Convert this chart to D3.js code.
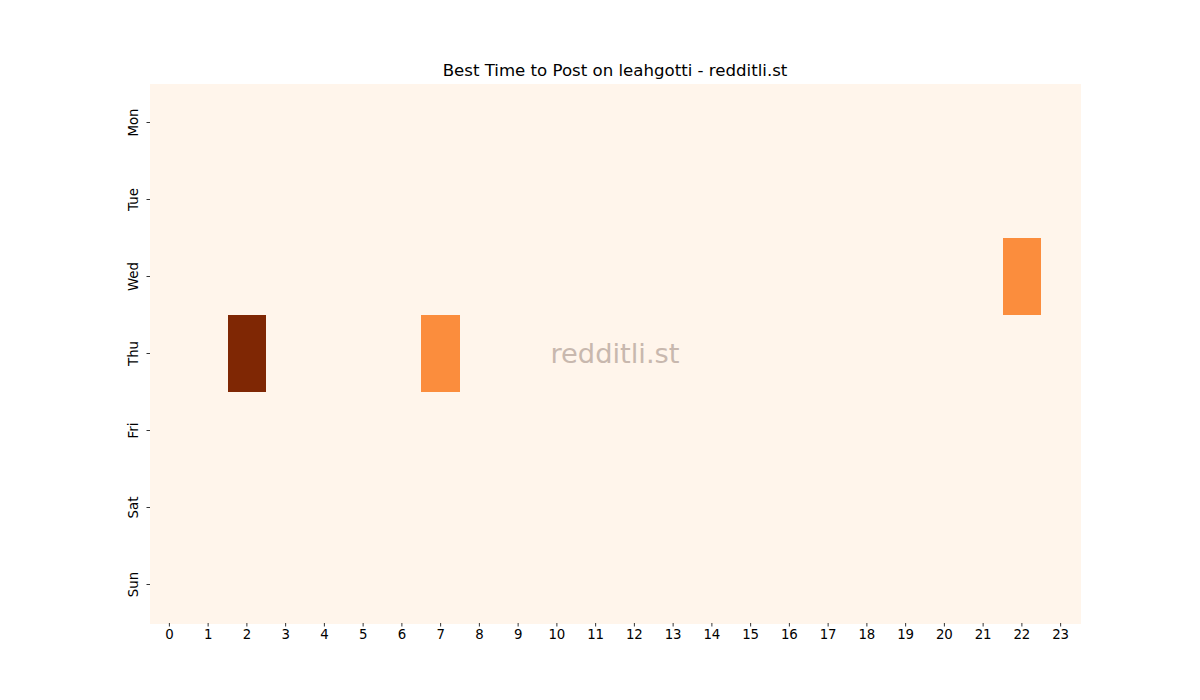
<!DOCTYPE html>
<html>
<head>
<meta charset="utf-8">
<script src="https://cdn.jsdelivr.net/npm/d3@7"></script>
<style>
  body { margin: 0; background: #fff; }
  svg { font-family: "DejaVu Sans", sans-serif; }
</style>
</head>
<body>
<svg width="1200" height="700"></svg>
<script>
// heatmap data
var days = ["Mon", "Tue", "Wed", "Thu", "Fri", "Sat", "Sun"];
var hours = d3.range(24);
var counts = [
  // [day, hour, posts]
  ["Wed", 22, 1],
  ["Thu", 2, 2],
  ["Thu", 7, 1]
];
var title = "Best Time to Post on leahgotti - redditli.st";

var svg = d3.select("svg"),
    margin = {top: 84, right: 120, bottom: 77, left: 150},
    width = svg.attr("width") - margin.left - margin.right,
    height = svg.attr("height") - margin.top - margin.bottom,
    g = svg.append("g").attr("transform", "translate(" + margin.left + "," + margin.top + ")");

var x = d3.scaleBand().domain(hours).range([0, width]),
    y = d3.scaleBand().domain(days).range([0, height]);

var lookup = {};
counts.forEach(function(d) { lookup[d[0] + "-" + d[1]] = d[2]; });

var cells = [];
days.forEach(function(day) {
  hours.forEach(function(h) {
    cells.push({day: day, hour: h, value: lookup[day + "-" + h] || 0});
  });
});

var color = d3.scaleSequential(d3.interpolateOranges)
    .domain([0, d3.max(cells, function(d) { return d.value; })]);

g.selectAll(".cell")
    .data(cells)
  .enter().append("rect")
    .attr("class", "cell")
    .attr("x", function(d) { return x(d.hour); })
    .attr("y", function(d) { return y(d.day); })
    .attr("width", x.bandwidth() + 0.5)
    .attr("height", y.bandwidth() + 0.5)
    .attr("fill", function(d) { return color(d.value); })
    .attr("shape-rendering", "crispEdges");

var xAxis = g.append("g")
    .attr("transform", "translate(0," + height + ")")
    .call(d3.axisBottom(x).tickSize(3.5).tickPadding(3.5));

var yAxis = g.append("g")
    .call(d3.axisLeft(y).tickSize(3.5).tickPadding(3.5));

[xAxis, yAxis].forEach(function(a) {
  a.select(".domain").remove();
  a.selectAll("text")
      .attr("fill", "#000")
      .style("font-family", "DejaVu Sans")
      .style("font-size", "13.33px");
  a.selectAll("line").attr("stroke", "#000").attr("stroke-width", 0.8);
});

yAxis.selectAll("text")
    .attr("transform", "rotate(-90)")
    .attr("x", 0)
    .attr("y", -17)
    .attr("dy", "0.35em")
    .attr("text-anchor", "middle");

svg.append("text")
    .attr("x", margin.left + width / 2)
    .attr("y", margin.top - 8)
    .attr("text-anchor", "middle")
    .style("font-size", "16.6px")
    .style("font-family", "DejaVu Sans")
    .attr("fill", "#000")
    .text(title);

svg.append("text")
    .attr("x", margin.left + width / 2)
    .attr("y", margin.top + height / 2)
    .attr("dy", "0.35em")
    .attr("text-anchor", "middle")
    .style("font-size", "27.3px")
    .style("font-family", "DejaVu Sans")
    .attr("fill", "#c8b8ae")
    .text("redditli.st");
</script>
</body>
</html>
